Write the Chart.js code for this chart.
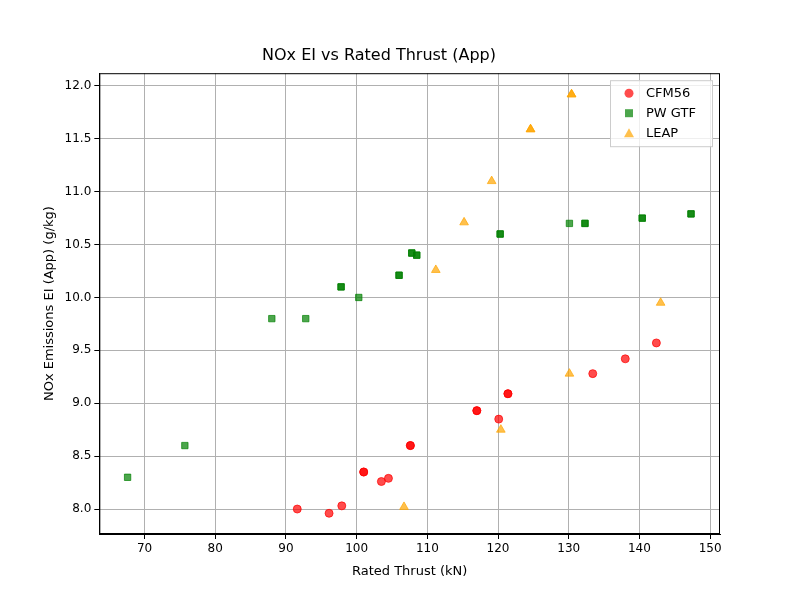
<!DOCTYPE html>
<html>
<head>
<meta charset="utf-8">
<script src="https://cdn.jsdelivr.net/npm/chart.js@4"></script>
<style>
  body { margin: 0; background: #fff; }
  #wrap { width: 800px; height: 600px; }
</style>
</head>
<body>
<div id="wrap"><canvas id="chart"></canvas></div>
<script>
// data (repeated points are where the marker looks darker)
const cfmThrust = [91.6, 96.1, 97.9, 101.0, 101.0, 103.5, 104.5, 107.6, 107.6, 117.0, 117.0, 120.1, 121.4, 121.4, 133.4, 138.0, 142.4];
const cfmNox = [8.0, 7.96, 8.03, 8.35, 8.35, 8.26, 8.29, 8.6, 8.6, 8.93, 8.93, 8.85, 9.09, 9.09, 9.28, 9.42, 9.57];

const gtfThrust = [67.6, 75.7, 88.0, 92.8, 97.8, 97.8, 100.3, 106.0, 106.0, 107.8, 107.8, 108.5, 108.5, 120.3, 120.3, 130.1, 132.3, 132.3, 140.4, 140.4, 147.3, 147.3];
const gtfNox = [8.3, 8.6, 9.8, 9.8, 10.1, 10.1, 10.0, 10.21, 10.21, 10.42, 10.42, 10.4, 10.4, 10.6, 10.6, 10.7, 10.7, 10.7, 10.75, 10.75, 10.79, 10.79];

const leapThrust = [106.7, 111.2, 115.2, 119.1, 120.4, 124.6, 124.6, 130.1, 130.4, 130.4, 143.0];
const leapNox = [8.02, 10.26, 10.71, 11.1, 8.75, 11.59, 11.59, 9.28, 11.92, 11.92, 9.95];

const xTicks = [70, 80, 90, 100, 110, 120, 130, 140, 150];
const yTicks = [8.0, 8.5, 9.0, 9.5, 10.0, 10.5, 11.0, 11.5, 12.0];

function toPoints(xs, ys) {
    return xs.map((x, i) => ({ x: x, y: ys[i] }));
}

// matplotlib-like frame and legend box inside the plot
const frameAndLegend = {
    id: 'frameAndLegend',
    afterDraw(chart) {
        const a = chart.chartArea;
        const ctx = chart.ctx;
        ctx.save();
        ctx.strokeStyle = '#000';
        ctx.lineWidth = 1;
        ctx.strokeRect(a.left + 0.5, a.top + 0.5, a.right - a.left - 1, a.bottom - a.top - 1);

        const bx = a.right - 110, by = a.top + 7, bw = 102, bh = 66;
        ctx.fillStyle = 'rgba(255,255,255,0.8)';
        ctx.strokeStyle = '#cccccc';
        ctx.fillRect(bx, by, bw, bh);
        ctx.strokeRect(bx + 0.5, by + 0.5, bw, bh);
        ctx.font = '13px DejaVu Sans';
        ctx.textBaseline = 'middle';
        chart.data.datasets.forEach((ds, i) => {
            const cy = by + 13 + i * 20;
            const cx = bx + 19;
            ctx.fillStyle = ds.backgroundColor;
            ctx.beginPath();
            if (ds.pointStyle === 'circle') {
                ctx.arc(cx, cy, 4.5, 0, Math.PI * 2);
            } else if (ds.pointStyle === 'rect') {
                ctx.rect(cx - 4, cy - 4, 8, 8);
            } else {
                ctx.moveTo(cx, cy - 5);
                ctx.lineTo(cx + 5, cy + 4);
                ctx.lineTo(cx - 5, cy + 4);
                ctx.closePath();
            }
            ctx.fill();
            ctx.fillStyle = '#000';
            ctx.fillText(ds.label, bx + 36, cy);
        });
        ctx.restore();
    }
};

Chart.defaults.font.family = 'DejaVu Sans';
Chart.defaults.color = '#000';

new Chart(document.getElementById('chart').getContext('2d'), {
    type: 'scatter',
    data: {
        datasets: [
            { label: 'CFM56', data: toPoints(cfmThrust, cfmNox), pointStyle: 'circle', pointRadius: 4,
              backgroundColor: 'rgba(255,0,0,0.7)', borderColor: 'rgba(255,0,0,0.7)' },
            { label: 'PW GTF', data: toPoints(gtfThrust, gtfNox), pointStyle: 'rect', pointRadius: 4.5,
              backgroundColor: 'rgba(0,128,0,0.7)', borderColor: 'rgba(0,128,0,0.7)' },
            { label: 'LEAP', data: toPoints(leapThrust, leapNox), pointStyle: 'triangle', pointRadius: 5,
              backgroundColor: 'rgba(255,165,0,0.7)', borderColor: 'rgba(255,165,0,0.7)' }
        ]
    },
    options: {
        responsive: true,
        maintainAspectRatio: false,
        animation: false,
        layout: { padding: { left: 38, right: 80, top: 10, bottom: 17 } },
        plugins: {
            title: { display: true, text: 'NOx EI vs Rated Thrust (App)', font: { size: 16, weight: 'normal' }, padding: { top: 36, bottom: 8 } },
            legend: { display: false },
            tooltip: { enabled: false }
        },
        scales: {
            x: {
                type: 'linear', min: 63.6, max: 151.4,
                afterBuildTicks: s => { s.ticks = xTicks.map(v => ({ value: v })); },
                title: { display: true, text: 'Rated Thrust (kN)', font: { size: 13 } },
                grid: { color: '#b0b0b0', tickColor: '#000', tickLength: 5 },
                border: { color: '#000' },
                ticks: { font: { size: 12 } }
            },
            y: {
                type: 'linear', min: 7.764, max: 12.12,
                afterBuildTicks: s => { s.ticks = yTicks.map(v => ({ value: v })); },
                title: { display: true, text: 'NOx Emissions EI (App) (g/kg)', font: { size: 13 } },
                grid: { color: '#b0b0b0', tickColor: '#000', tickLength: 5 },
                border: { color: '#000' },
                ticks: { font: { size: 12 }, callback: v => v.toFixed(1) }
            }
        }
    },
    plugins: [frameAndLegend]
});
</script>
</body>
</html>
